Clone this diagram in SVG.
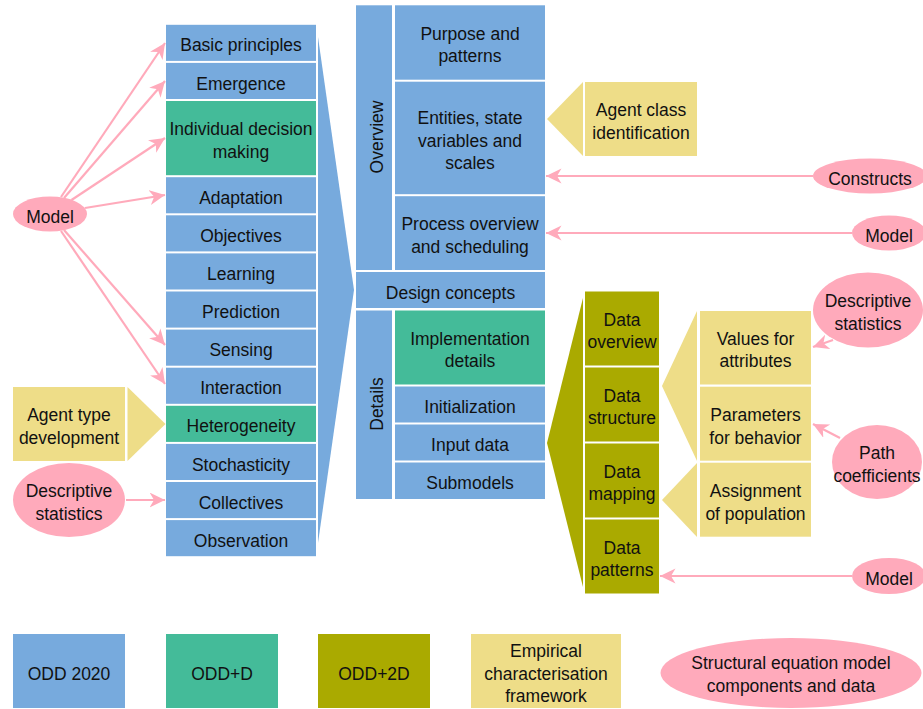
<svg xmlns="http://www.w3.org/2000/svg" width="923" height="709" viewBox="0 0 923 709">
<style>
.b{fill:#77AADD}.g{fill:#44BB99}.o{fill:#AAAA00}.y{fill:#EEDD88}.p{fill:#FFAABB}
text{font-family:"Liberation Sans",Arial,sans-serif;font-size:17.5px;fill:#111;text-anchor:middle}
.c{stroke:#FFAABB;stroke-width:2.2;fill:none;marker-end:url(#ah)}
</style>
<defs>
<marker id="ah" markerUnits="userSpaceOnUse" markerWidth="17" markerHeight="16" refX="15.5" refY="7.5" orient="auto" viewBox="0 0 17 16">
<path d="M0,0 L15.5,7.5 L0,15 L4.5,7.5 Z" fill="#FFAABB"/>
</marker>
</defs>
<rect width="923" height="709" fill="#fff"/>

<!-- funnels / pointers -->
<g id="funnels">
<polygon class="b" points="318,37 354,290 318,543"/>
<polygon class="o" points="583,298 547,443 583,587"/>
<polygon class="y" points="583,82 547,119 583,156"/>
<polygon class="y" points="127.5,387 165.5,424 127.5,461"/>
<polygon class="y" points="697,311 662,386 697,461"/>
<polygon class="y" points="697,463 662,500 697,537"/>
</g>

<!-- left column -->
<g id="basic"><rect class="b" x="166" y="24.8" width="150" height="36.1"/><text x="241" y="51.4">Basic principles</text></g>
<g id="emergence"><rect class="b" x="166" y="62.9" width="150" height="36.1"/><text x="241" y="89.5">Emergence</text></g>
<g id="idm"><rect class="g" x="166" y="101" width="150" height="74.2"/><text x="241" y="135.3">Individual decision</text><text x="241" y="158">making</text></g>
<g id="adaptation"><rect class="b" x="166" y="177.2" width="150" height="36.1"/><text x="241" y="203.8">Adaptation</text></g>
<g id="objectives"><rect class="b" x="166" y="215.3" width="150" height="36.1"/><text x="241" y="241.9">Objectives</text></g>
<g id="learning"><rect class="b" x="166" y="253.4" width="150" height="36.1"/><text x="241" y="280">Learning</text></g>
<g id="prediction"><rect class="b" x="166" y="291.5" width="150" height="36.1"/><text x="241" y="318.1">Prediction</text></g>
<g id="sensing"><rect class="b" x="166" y="329.6" width="150" height="36.1"/><text x="241" y="356.2">Sensing</text></g>
<g id="interaction"><rect class="b" x="166" y="367.7" width="150" height="36.1"/><text x="241" y="394.3">Interaction</text></g>
<g id="heterogeneity"><rect class="g" x="166" y="405.8" width="150" height="36.1"/><text x="241" y="432.4">Heterogeneity</text></g>
<g id="stochasticity"><rect class="b" x="166" y="443.9" width="150" height="36.1"/><text x="241" y="470.5">Stochasticity</text></g>
<g id="collectives"><rect class="b" x="166" y="482" width="150" height="36.1"/><text x="241" y="508.6">Collectives</text></g>
<g id="observation"><rect class="b" x="166" y="520.1" width="150" height="36.1"/><text x="241" y="546.7">Observation</text></g>

<!-- middle column -->
<g id="overview"><rect class="b" x="356" y="5.3" width="36" height="264.7"/><text transform="translate(383,137) rotate(-90)">Overview</text></g>
<g id="purpose"><rect class="b" x="395" y="5.3" width="150" height="74.4"/><text x="470" y="39.6">Purpose and</text><text x="470" y="62.3">patterns</text></g>
<g id="entities"><rect class="b" x="395" y="81.7" width="150" height="112.5"/><text x="470" y="123.8">Entities, state</text><text x="470" y="146.5">variables and</text><text x="470" y="169.2">scales</text></g>
<g id="process"><rect class="b" x="395" y="196.2" width="150" height="73.8"/><text x="470" y="230.1">Process overview</text><text x="470" y="252.8">and scheduling</text></g>
<g id="design"><rect class="b" x="356" y="272" width="189" height="36"/><text x="450.5" y="298.5">Design concepts</text></g>
<g id="details"><rect class="b" x="356" y="310.5" width="36" height="188.5"/><text transform="translate(383,404) rotate(-90)">Details</text></g>
<g id="implementation"><rect class="g" x="395" y="310.5" width="150" height="74"/><text x="470" y="344.6">Implementation</text><text x="470" y="367.3">details</text></g>
<g id="initialization"><rect class="b" x="395" y="386.5" width="150" height="36"/><text x="470" y="413">Initialization</text></g>
<g id="input"><rect class="b" x="395" y="424.5" width="150" height="36"/><text x="470" y="451">Input data</text></g>
<g id="submodels"><rect class="b" x="395" y="462.5" width="150" height="36.5"/><text x="470" y="489.2">Submodels</text></g>

<!-- data column -->
<g id="dataoverview"><rect class="o" x="585" y="291.5" width="74" height="74"/><text x="622" y="325.6">Data</text><text x="622" y="348.3">overview</text></g>
<g id="datastructure"><rect class="o" x="585" y="367.5" width="74" height="74"/><text x="622" y="401.6">Data</text><text x="622" y="424.3">structure</text></g>
<g id="datamapping"><rect class="o" x="585" y="443.5" width="74" height="74"/><text x="622" y="477.6">Data</text><text x="622" y="500.3">mapping</text></g>
<g id="datapatterns"><rect class="o" x="585" y="519.5" width="74" height="74"/><text x="622" y="553.6">Data</text><text x="622" y="576.3">patterns</text></g>

<!-- yellow boxes -->
<g id="agentclass"><rect class="y" x="585" y="82" width="112" height="74"/><text x="641" y="116.1">Agent class</text><text x="641" y="138.8">identification</text></g>
<g id="agenttype"><rect class="y" x="13" y="387" width="112" height="74"/><text x="69" y="421.1">Agent type</text><text x="69" y="443.8">development</text></g>
<g id="values"><rect class="y" x="700" y="311" width="111" height="73.5"/><text x="755.5" y="344.6">Values for</text><text x="755.5" y="367.3">attributes</text></g>
<g id="parameters"><rect class="y" x="700" y="386.7" width="111" height="74"/><text x="755.5" y="420.8">Parameters</text><text x="755.5" y="443.5">for behavior</text></g>
<g id="assignment"><rect class="y" x="700" y="462.7" width="111" height="74"/><text x="755.5" y="496.8">Assignment</text><text x="755.5" y="519.5">of population</text></g>

<!-- ellipses -->
<g id="modelL"><ellipse class="p" cx="50" cy="214" rx="37" ry="17.5"/><text x="50" y="222.5">Model</text></g>
<g id="descL"><ellipse class="p" cx="69" cy="500" rx="56" ry="37"/><text x="69" y="497.1">Descriptive</text><text x="69" y="519.8">statistics</text></g>
<g id="constructs"><ellipse class="p" cx="870" cy="176" rx="57" ry="17.5"/><text x="870" y="184.5">Constructs</text></g>
<g id="modelR1"><ellipse class="p" cx="889" cy="233" rx="37" ry="17.5"/><text x="889" y="241.5">Model</text></g>
<g id="descR"><ellipse class="p" cx="868" cy="310" rx="55" ry="37.5"/><text x="868" y="307.1">Descriptive</text><text x="868" y="329.8">statistics</text></g>
<g id="path"><ellipse class="p" cx="877" cy="462" rx="45" ry="37"/><text x="877" y="459.1">Path</text><text x="877" y="481.8">coefficients</text></g>
<g id="modelR2"><ellipse class="p" cx="889" cy="576" rx="37" ry="18"/><text x="889" y="584.5">Model</text></g>

<!-- connectors -->
<g id="connectors">
<line class="c" x1="61" y1="197" x2="165" y2="43"/>
<line class="c" x1="64" y1="198" x2="165" y2="81"/>
<line class="c" x1="71.5" y1="200" x2="165" y2="138"/>
<line class="c" x1="85" y1="208" x2="165" y2="195"/>
<line class="c" x1="64" y1="230" x2="165" y2="345"/>
<line class="c" x1="61" y1="231" x2="165" y2="384"/>
<line class="c" x1="126" y1="500" x2="165" y2="500"/>
<line class="c" x1="813" y1="176" x2="546" y2="176"/>
<line class="c" x1="852" y1="233" x2="546" y2="233"/>
<line class="c" x1="833" y1="340" x2="813" y2="347"/>
<line class="c" x1="840" y1="438" x2="813" y2="424"/>
<line class="c" x1="852" y1="576" x2="660" y2="576"/>
</g>

<!-- legend -->
<g id="legend-odd2020"><rect class="b" x="13" y="634" width="112" height="74"/><text x="69" y="679.5">ODD 2020</text></g>
<g id="legend-oddd"><rect class="g" x="166" y="634" width="112" height="74"/><text x="222" y="679.5">ODD+D</text></g>
<g id="legend-odd2d"><rect class="o" x="318" y="634" width="112" height="74"/><text x="374" y="679.5">ODD+2D</text></g>
<g id="legend-empirical"><rect class="y" x="471" y="634" width="150" height="74"/><text x="546" y="657">Empirical</text><text x="546" y="679.7">characterisation</text><text x="546" y="702.4">framework</text></g>
<g id="legend-sem"><ellipse class="p" cx="791" cy="673" rx="130.5" ry="35"/><text x="791" y="669.3">Structural equation model</text><text x="791" y="692">components and data</text></g>
</svg>
